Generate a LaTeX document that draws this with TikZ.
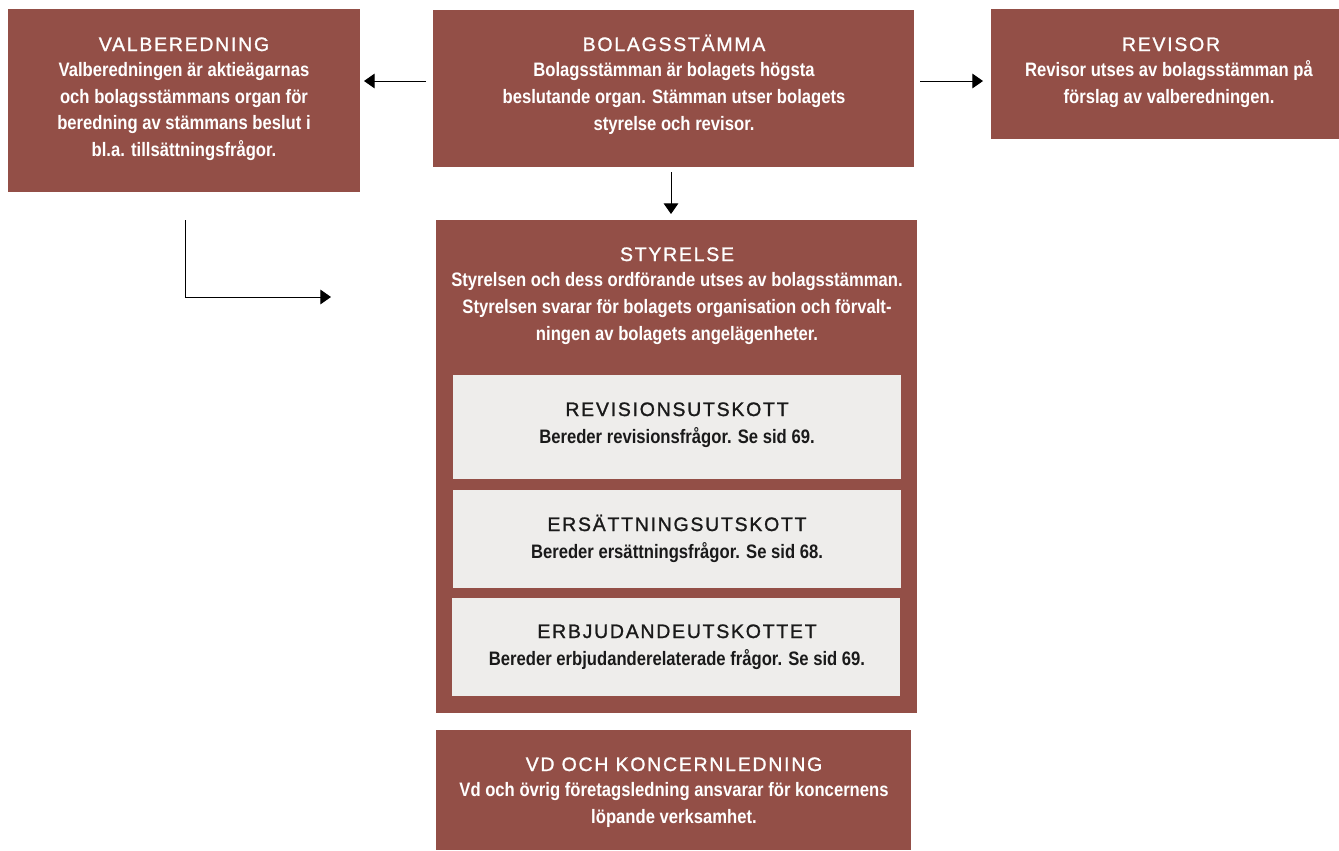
\documentclass[tikz,border=0pt]{standalone}
\usepackage{fontspec}
\setmainfont{Liberation Sans}
\newfontfamily\bodyfont[FakeStretch=0.855,UprightFont=*-Bold]{Liberation Sans}
\newfontfamily\titlefont[LetterSpace=9,FakeBold=1.2]{Liberation Sans}
\usetikzlibrary{arrows.meta,fit}
\definecolor{brick}{HTML}{934F47}
\definecolor{paper}{HTML}{EEEDEB}
\definecolor{ink}{HTML}{1A1A1A}
\begin{document}
\begin{tikzpicture}[x=0.75pt,y=-0.75pt,
  rbox/.style={fill=brick,draw=none,inner sep=0pt},
  gbox/.style={fill=paper,draw=none,inner sep=0pt},
  ttl/.style={anchor=base,inner sep=0pt,text=white,font=\titlefont\fontsize{14.6}{19.9}\selectfont},
  bdy/.style={anchor=base,inner sep=0pt,align=center,text=white,font=\bodyfont\fontsize{14.6}{19.9}\selectfont},
  dttl/.style={ttl,text=ink},
  dbdy/.style={bdy,text=ink},
  arr/.style={line width=0.75pt,-{Triangle[length=8pt,width=11pt]}}]
\useasboundingbox (0,0) rectangle (1339,850);
% boxes
\node[rbox,fit={(8,9)(360,192)}] (val) {};
\node[rbox,fit={(433,10)(914,167)}] (bol) {};
\node[rbox,fit={(991,9)(1339,139)}] (rev) {};
\node[rbox,fit={(436,220)(917,713)}] (sty) {};
\node[gbox,fit={(453,375)(901,479)}] (rvu) {};
\node[gbox,fit={(453,490)(901,588)}] (ers) {};
\node[gbox,fit={(452,598)(900,696)}] (erb) {};
\node[rbox,fit={(436,730)(911,850)}] (vd) {};
% texts (multi-line nodes: base = last line)
\node[ttl] (valT) at (184,51) {VALBEREDNING};
\node[bdy] (valB) at (184,156.5) {Valberedningen är aktieägarnas\\och bolagsstämmans organ för\\beredning av stämmans beslut i\\bl.a. tillsättningsfrågor.};
\node[ttl] (bolT) at (674,51) {BOLAGSSTÄMMA};
\node[bdy] (bolB) at (674,130) {Bolagsstämman är bolagets högsta\\beslutande organ. Stämman utser bolagets\\styrelse och revisor.};
\node[ttl] (revT) at (1171,51) {REVISOR};
\node[bdy] (revB) at (1169,103.5) {Revisor utses av bolagsstämman på\\förslag av valberedningen.};
\node[ttl] (styT) at (677,261) {STYRELSE};
\node[bdy] (styB) at (677,340) {Styrelsen och dess ordförande utses av bolagsstämman.\\Styrelsen svarar för bolagets organisation och förvalt-\\ningen av bolagets angelägenheter.};
\node[dttl] (rvuT) at (677,416) {REVISIONSUTSKOTT};
\node[dbdy] (rvuB) at (677,443) {Bereder revisionsfrågor. Se sid 69.};
\node[dttl] (ersT) at (677,531) {ERSÄTTNINGSUTSKOTT};
\node[dbdy] (ersB) at (677,558) {Bereder ersättningsfrågor. Se sid 68.};
\node[dttl] (erbT) at (677,638) {ERBJUDANDEUTSKOTTET};
\node[dbdy] (erbB) at (677,665) {Bereder erbjudanderelaterade frågor. Se sid 69.};
\node[ttl] (vdT) at (674,771) {VD OCH KONCERNLEDNING};
\node[bdy] (vdB) at (674,823.5) {Vd och övrig företagsledning ansvarar för koncernens\\löpande verksamhet.};
% connectors
\coordinate (bolL) at (426,81);
\coordinate (valR) at (364,81);
\coordinate (bolR) at (920,81);
\coordinate (revL) at (983,81);
\coordinate (bolD) at (671,172);
\coordinate (styU) at (671,214);
\coordinate (valD) at (185,220);
\coordinate (valE) at (331,297);
\draw[arr] (bolL) -- (valR);
\draw[arr] (bolR) -- (revL);
\draw[arr] (bolD) -- (styU);
\draw[arr] (valD) |- (valE);
\end{tikzpicture}
\end{document}
